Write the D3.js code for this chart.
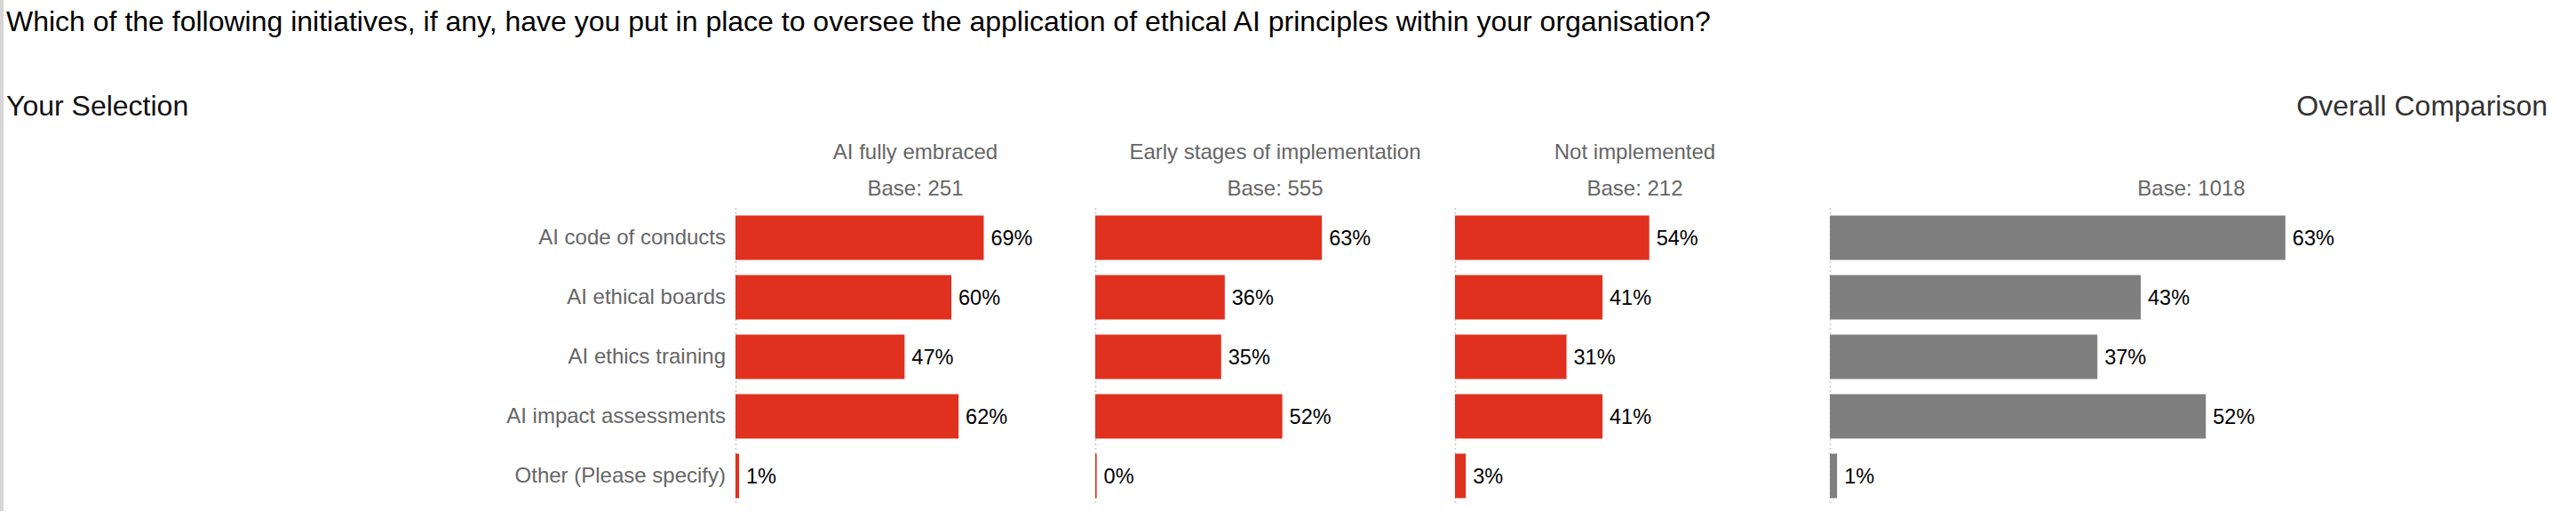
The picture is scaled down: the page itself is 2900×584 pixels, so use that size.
<!DOCTYPE html>
<html>
<head>
<meta charset="utf-8">
<script src="https://cdn.jsdelivr.net/npm/d3@7"></script>
<style>
  html, body { margin: 0; padding: 0; background: #fff; }
  svg { display: block; font-family: "Liberation Sans", Arial, Helvetica, sans-serif; }
</style>
</head>
<body>
<div id="chart"></div>
<script>
// ---- data ----
const title = "Which of the following initiatives, if any, have you put in place to oversee the application of ethical AI principles within your organisation?";
const categories = ["AI code of conducts", "AI ethical boards", "AI ethics training", "AI impact assessments", "Other (Please specify)"];
const segments = ["AI fully embraced", "Early stages of implementation", "Not implemented"];
const segmentBases = [251, 555, 212];
const fullyEmbraced = [69, 60, 47, 62, 1];
const earlyStages = [63, 36, 35, 52, 0.4];
const notImplemented = [54, 41, 31, 41, 3];
const overall = [63, 43, 37, 52, 1];
const overallBase = 1018;
const segmentValues = [fullyEmbraced, earlyStages, notImplemented];

// ---- layout ----
const W = 2900, H = 584;
const svg = d3.select("#chart").append("svg").attr("width", W).attr("height", H);

const RED = "#e0301e", GREY = "#7f7f7f";
const fmt = v => Math.round(v) + "%";

// left border
svg.append("rect").attr("x", 0).attr("y", 0).attr("width", 4).attr("height", 575).attr("fill", "#d6d6d6");

svg.append("text").attr("x", 7).attr("y", 35).attr("font-size", 32).attr("fill", "#000").text(title);
svg.append("text").attr("x", 7).attr("y", 130).attr("font-size", 32).attr("fill", "#111").text("Your Selection");
svg.append("text").attr("x", 2868).attr("y", 130).attr("font-size", 32).attr("fill", "#333")
   .attr("text-anchor", "end").text("Overall Comparison");

const y = d3.scaleBand().domain(categories).range([234, 569]).paddingInner(0.254).paddingOuter(0.127);
const panel = d3.scaleBand().domain(segments).range([828, 2043]);

// category axis
const yAxis = svg.append("g").attr("transform", "translate(828,0)")
  .call(d3.axisLeft(y).tickSize(0).tickPadding(11));
yAxis.select(".domain").remove();
yAxis.selectAll("text").attr("font-size", 24).attr("fill", "#666").attr("font-family", null);

function drawPanel(x0, width, values, color, header, base) {
  const x = d3.scaleLinear().domain([0, 100]).range([x0, x0 + width]);
  const g = svg.append("g");
  const cx = x0 + width / 2;
  if (header) {
    g.append("text").attr("x", cx).attr("y", 179).attr("text-anchor", "middle")
      .attr("font-size", 24).attr("fill", "#666").text(header);
  }
  g.append("text").attr("x", cx).attr("y", 220).attr("text-anchor", "middle")
    .attr("font-size", 24).attr("fill", "#666").text("Base: " + base);
  g.append("line").attr("x1", x(0) + 0.5).attr("x2", x(0) + 0.5)
    .attr("y1", y.range()[0]).attr("y2", y.range()[1])
    .attr("stroke", "#c8c8c8").attr("stroke-width", 1.5).attr("stroke-dasharray", "2,3");
  g.selectAll("rect.bar").data(values).join("rect").attr("class", "bar")
    .attr("x", x(0)).attr("y", (d, i) => y(categories[i]))
    .attr("width", d => x(d) - x(0)).attr("height", y.bandwidth()).attr("fill", color);
  g.selectAll("text.val").data(values).join("text").attr("class", "val")
    .attr("x", d => x(d) + 8).attr("y", (d, i) => y(categories[i]) + y.bandwidth() / 2)
    .attr("dy", "0.35em").attr("font-size", 23.5).attr("fill", "#000").text(fmt);
}

segments.forEach((s, i) => drawPanel(panel(s), panel.bandwidth(), segmentValues[i], RED, s, segmentBases[i]));
drawPanel(2060, 814, overall, GREY, null, overallBase);
</script>
</body>
</html>
